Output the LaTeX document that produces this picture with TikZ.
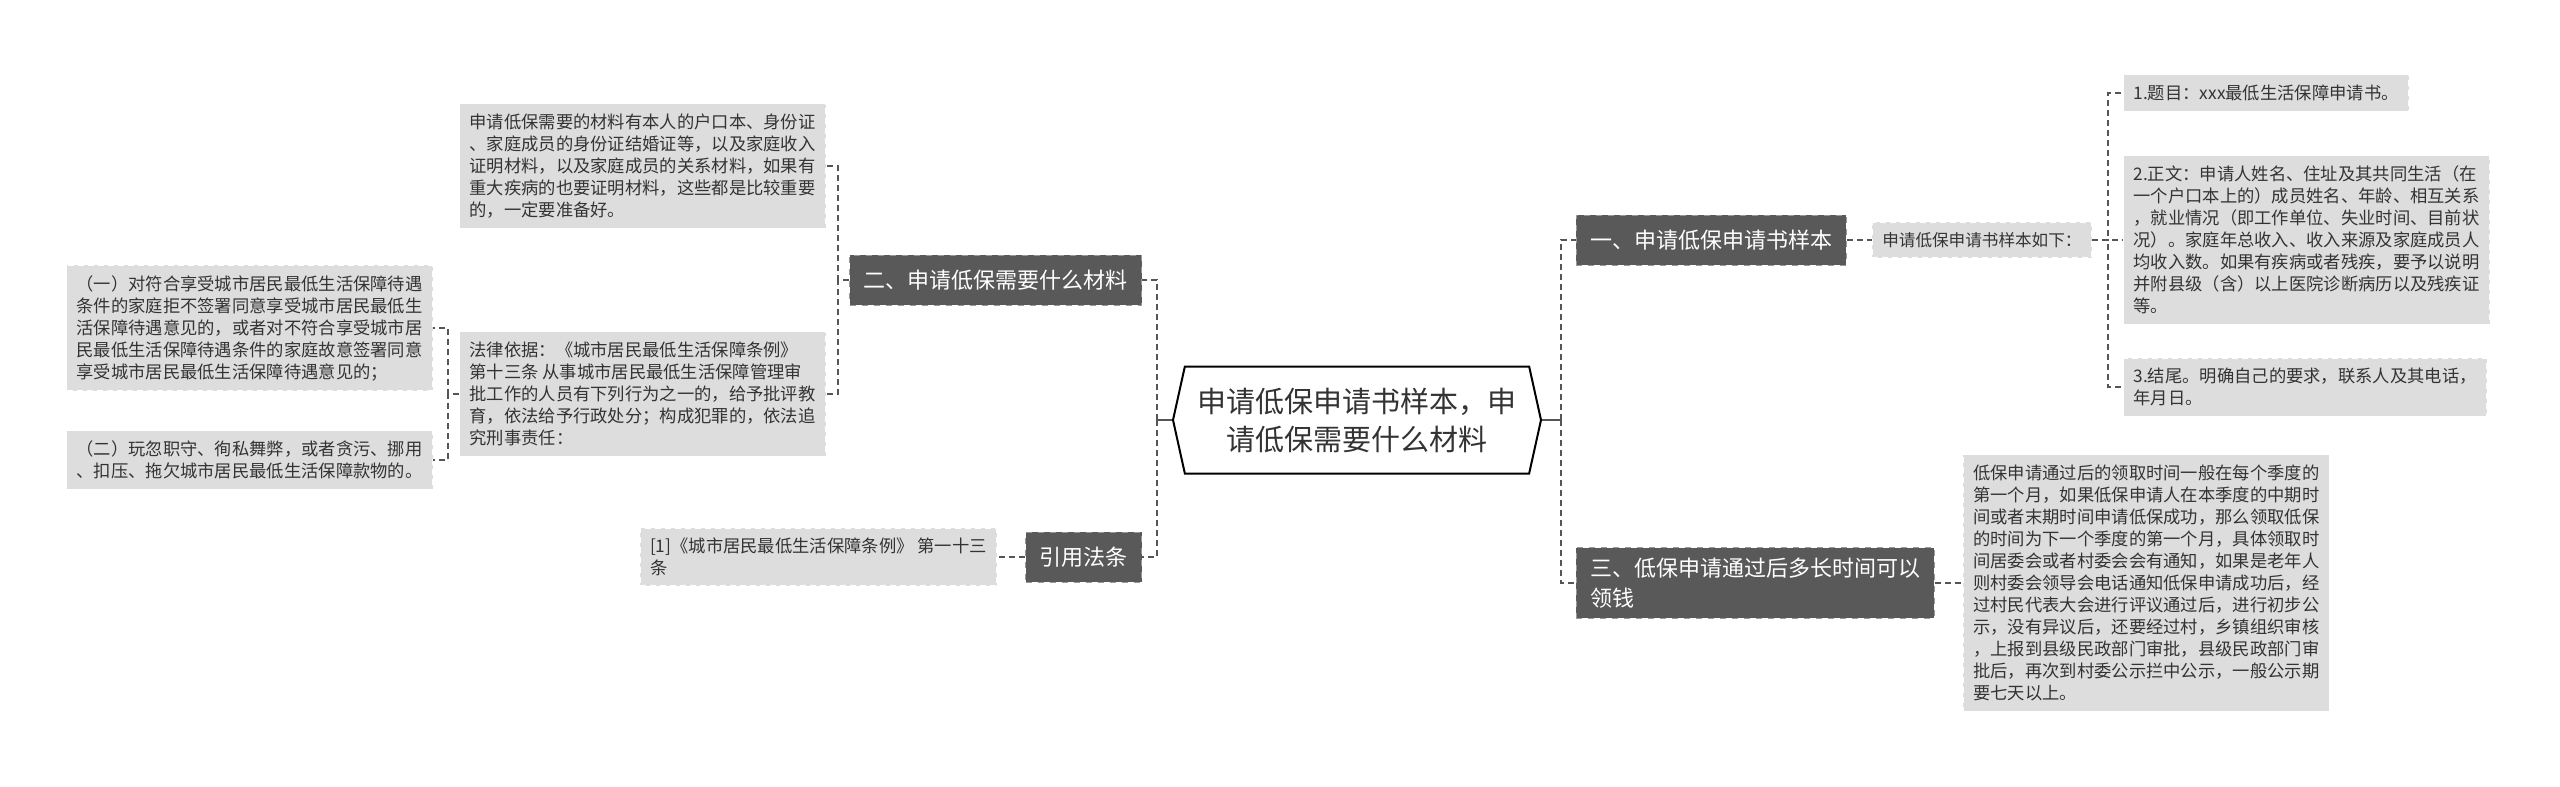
\documentclass[tikz,border=0pt]{standalone}
\usepackage{fontspec}
\setmainfont{Noto Sans CJK SC}
\usetikzlibrary{positioning,shapes.symbols}
\definecolor{darkbox}{RGB}{89,89,89}
\definecolor{lightbox}{RGB}{221,221,221}
\definecolor{linegray}{RGB}{85,85,85}
\definecolor{textgray}{RGB}{51,51,51}

\begin{document}
\begin{tikzpicture}[x=0.5pt, y=-0.5pt,
    root/.style={shape=signal, signal to=east and west, signal pointer angle=155,
                 draw=black, line width=1pt, fill=white, minimum width=184pt,
                 minimum height=53.5pt, inner sep=2pt, align=center, text=textgray,
                 font=\fontsize{14.5}{19}\selectfont},
    bnode/.style={draw=black!40, dashed, fill=darkbox, text=white, minimum height=25pt,
                  inner xsep=7pt, inner ysep=5pt, align=left,
                  font=\fontsize{11}{15}\selectfont},
    lnode/.style={draw=white, densely dashed, line width=0.5pt, fill=lightbox,
                  text=textgray, inner sep=5pt, align=left,
                  font=\fontsize{8.65}{11}\selectfont},
    conn/.style={draw=linegray, line width=0.75pt, dash pattern=on 3pt off 2pt},
    tick/.style={draw=linegray, line width=1pt}
  ]
    \useasboundingbox (0,0) rectangle (2560,787);

    \node[root] (r) at (1357,420) {申请低保申请书样本，申\\请低保需要什么材料};

    \node[bnode, anchor=east] (b2) at (1142,280) {二、申请低保需要什么材料};
    \node[bnode, anchor=east] (b4) at (1142,557) {引用法条};
    \node[bnode, anchor=west] (b1) at (1576,240) {一、申请低保申请书样本};
    \node[bnode, anchor=west] (b3) at (1576,583) {三、低保申请通过后多长时间可以\\领钱};

    \node[lnode, anchor=east] (m1) at (826,166) {申请低保需要的材料有本人的户口本、身份证\\、家庭成员的身份证结婚证等，以及家庭收入\\证明材料，以及家庭成员的关系材料，如果有\\重大疾病的也要证明材料，这些都是比较重要\\的，一定要准备好。};
    \node[lnode, anchor=east] (m2) at (826,394) {法律依据：《城市居民最低生活保障条例》\\第十三条 从事城市居民最低生活保障管理审\\批工作的人员有下列行为之一的，给予批评教\\育，依法给予行政处分；构成犯罪的，依法追\\究刑事责任：};
    \node[lnode, anchor=east] (m3) at (433,328) {（一）对符合享受城市居民最低生活保障待遇\\条件的家庭拒不签署同意享受城市居民最低生\\活保障待遇意见的，或者对不符合享受城市居\\民最低生活保障待遇条件的家庭故意签署同意\\享受城市居民最低生活保障待遇意见的；};
    \node[lnode, anchor=east] (m4) at (433,460) {（二）玩忽职守、徇私舞弊，或者贪污、挪用\\、扣压、拖欠城市居民最低生活保障款物的。};
    \node[lnode, left=14pt of b4] (q1) {[1]《城市居民最低生活保障条例》 第一十三\\条};

    \node[lnode, right=12.5pt of b1, font=\fontsize{8.3}{11}\selectfont] (s0) {申请低保申请书样本如下：};
    \node[lnode, anchor=west] (s1) at (2123,93) {1.题目：xxx最低生活保障申请书。};
    \node[lnode, anchor=west] (s2) at (2123,240) {2.正文：申请人姓名、住址及其共同生活（在\\一个户口本上的）成员姓名、年龄、相互关系\\，就业情况（即工作单位、失业时间、目前状\\况）。家庭年总收入、收入来源及家庭成员人\\均收入数。如果有疾病或者残疾，要予以说明\\并附县级（含）以上医院诊断病历以及残疾证\\等。};
    \node[lnode, anchor=west] (s3) at (2123,387) {3.结尾。明确自己的要求，联系人及其电话，\\年月日。};
    \node[lnode, right=14pt of b3] (t1) {低保申请通过后的领取时间一般在每个季度的\\第一个月，如果低保申请人在本季度的中期时\\间或者末期时间申请低保成功，那么领取低保\\的时间为下一个季度的第一个月，具体领取时\\间居委会或者村委会会有通知，如果是老年人\\则村委会领导会电话通知低保申请成功后，经\\过村民代表大会进行评议通过后，进行初步公\\示，没有异议后，还要经过村，乡镇组织审核\\，上报到县级民政部门审批，县级民政部门审\\批后，再次到村委公示拦中公示，一般公示期\\要七天以上。};

    \coordinate (kl) at (1157,0);
    \coordinate (kr) at (1561,0);
    \coordinate (k2) at (838,0);
    \coordinate (km) at (448,0);
    \coordinate (ks) at (2108,0);

    \draw[tick] (r.west) -- (r.west -| kl);
    \draw[tick] (r.east) -- (r.east -| kr);
    \foreach \a in {b2,b4}
      \draw[conn] (r.west -| kl) |- (\a.east);
    \foreach \a in {b1,b3}
      \draw[conn] (r.east -| kr) |- (\a.west);
    \foreach \a in {m1,m2}
      \draw[conn] (b2.west) -- (b2.west -| k2) |- (\a.east);
    \foreach \a in {m3,m4}
      \draw[conn] (m2.west) -- (m2.west -| km) |- (\a.east);
    \foreach \a in {s1,s2,s3}
      \draw[conn] (s0.east) -- (s0.east -| ks) |- (\a.west);
    \foreach \a/\b in {b4/q1,b1/s0,b3/t1}
      \draw[conn] (\a) -- (\b);
  \end{tikzpicture}
\end{document}
